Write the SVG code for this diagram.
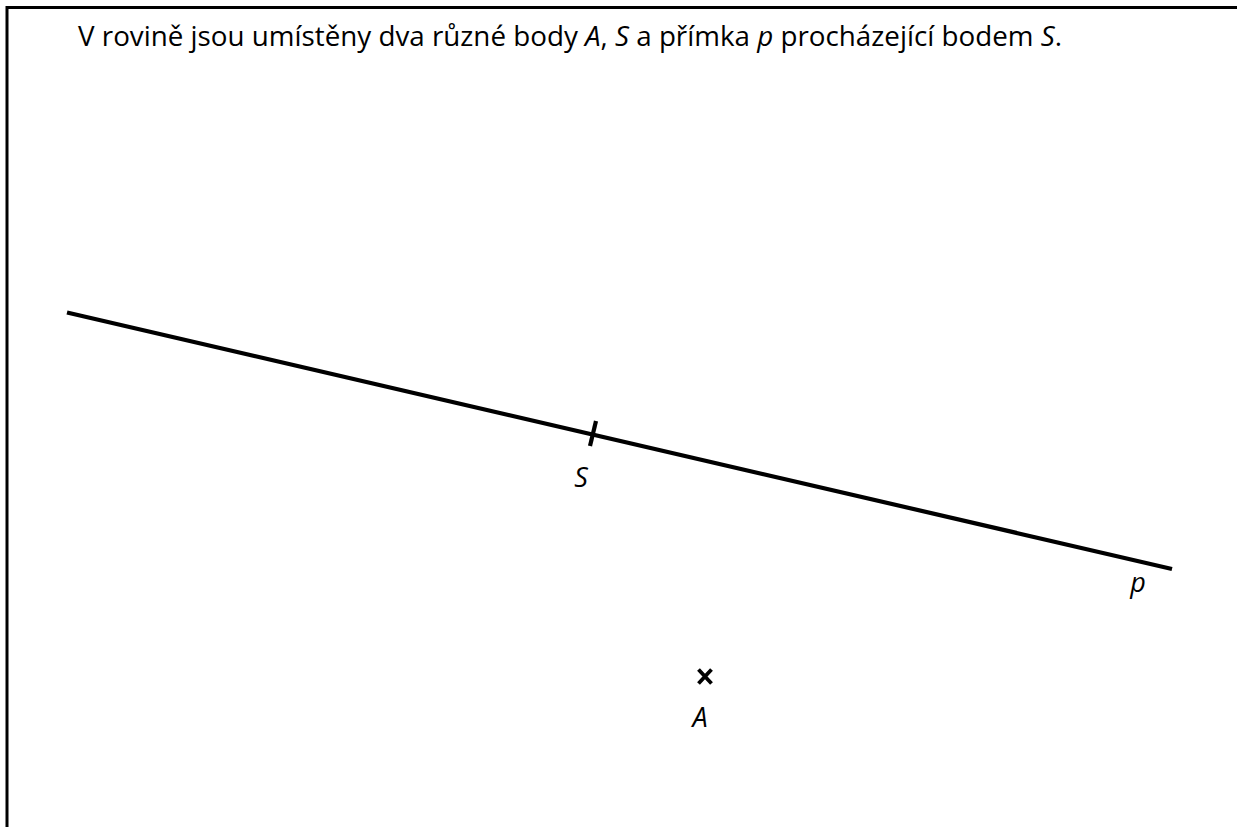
<svg xmlns="http://www.w3.org/2000/svg" width="1237" height="827" viewBox="0 0 1237 827">
<style>
.t{font-family:"Open Sans","Noto Sans","Liberation Sans",sans-serif;font-size:27px;fill:#000}
.i{font-style:italic}
.ln{stroke:#000;stroke-width:4.2;fill:none}
</style>
<rect width="1237" height="827" fill="#fff"/>
<g id="frame"><path d="M7 827 V7.5 H1237" stroke="#000" stroke-width="3" fill="none"/></g>
<text class="t" x="78" y="46" textLength="984" lengthAdjust="spacingAndGlyphs">V rovině jsou umístěny dva různé body <tspan class="i">A</tspan>, <tspan class="i">S</tspan> a přímka <tspan class="i">p</tspan> procházející bodem <tspan class="i">S</tspan>.</text>
<g id="connectors">
<line id="p" class="ln" x1="67" y1="312.5" x2="1172" y2="569"/>
</g>
<g id="nodeS">
<line class="ln" x1="590" y1="446" x2="596" y2="421"/>
<text class="t i" x="581" y="487" text-anchor="middle">S</text>
</g>
<g id="labelP"><text class="t i" x="1138" y="592" text-anchor="middle">p</text></g>
<g id="nodeA">
<path d="M698.5 669.5 L711.5 683.5 M711.5 669.5 L698.5 683.5" stroke="#000" stroke-width="3.8"/>
<text class="t i" x="700" y="727" text-anchor="middle">A</text>
</g>
</svg>
